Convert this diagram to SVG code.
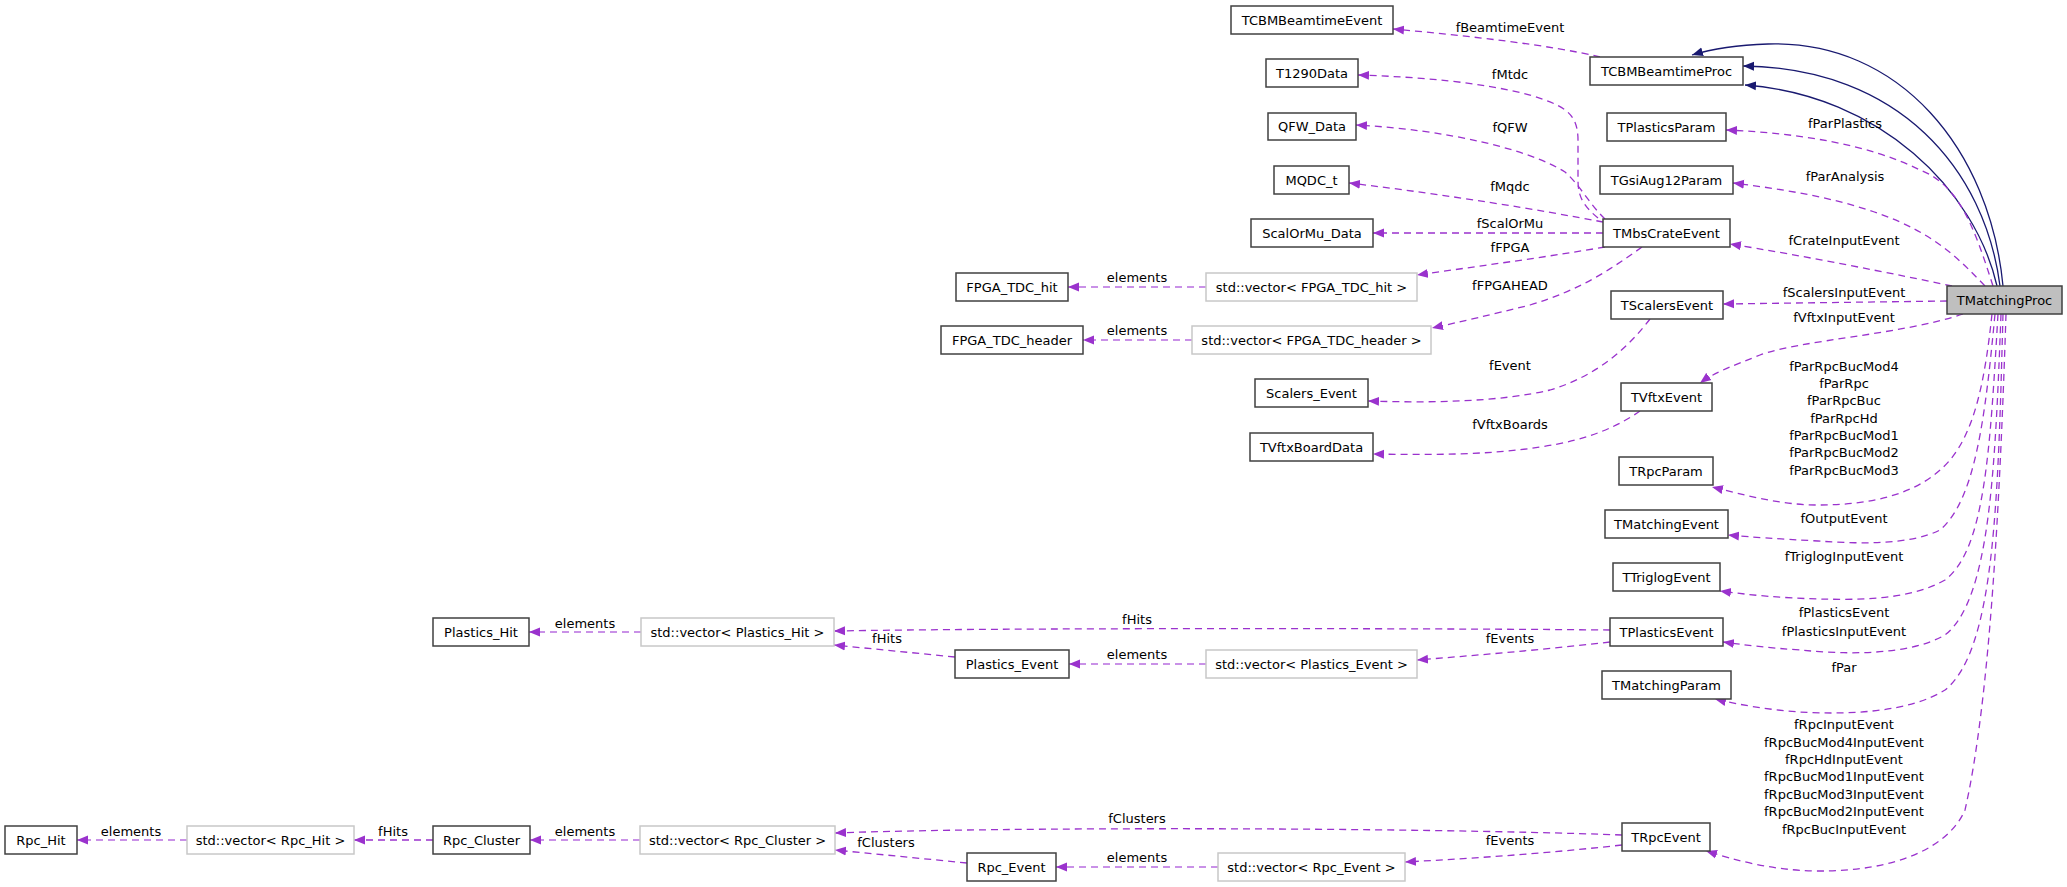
<svg xmlns="http://www.w3.org/2000/svg" width="2067" height="887" viewBox="0 0 2067 887">
<style>
text{font-family:"DejaVu Sans","Liberation Sans",sans-serif;font-size:13px;fill:#000}
.n rect{fill:#fff;stroke:#404040;stroke-width:1.5}
.v rect{fill:#fff;stroke:#c8c8c8;stroke-width:1.5}
.m rect{fill:#bfbfbf;stroke:#404040;stroke-width:1.5}
g.n text,g.v text,g.m text{text-anchor:middle}
.e path{fill:none;stroke:#9a32cd;stroke-width:1.3;stroke-dasharray:7,5;marker-end:url(#pa)}
.e path.el{stroke:#b86ee0}
.e path.inh{stroke:#191970;stroke-dasharray:none;marker-end:url(#ba)}
.l text{text-anchor:middle}
</style>
<defs>
<marker id="pa" markerUnits="userSpaceOnUse" markerWidth="12" markerHeight="10" refX="11" refY="5" orient="auto"><path d="M0,0.5 L11,5 L0,9.5z" fill="#9a32cd"/></marker>
<marker id="ba" markerUnits="userSpaceOnUse" markerWidth="12" markerHeight="10" refX="11" refY="5" orient="auto"><path d="M0,0.5 L11,5 L0,9.5z" fill="#191970"/></marker>
</defs>
<g class="e">
<path d="M1600,57 C1550,45 1470,36 1393,29"/>
<path d="M1598,218 C1582,205 1578,195 1578,180 L1578,140 C1578,110 1560,105 1530,95 C1480,82 1420,77 1358,75"/>
<path d="M1605,219 C1590,205 1580,185 1565,172 C1530,150 1450,130 1356,125"/>
<path d="M1603,222 C1540,210 1450,195 1349,183"/>
<path d="M1603,233 L1373,233"/>
<path d="M1605,247 C1540,258 1480,266 1417,275"/>
<path d="M1642,247 C1610,270 1580,290 1530,305 C1490,315 1460,322 1432,328"/>
<path class="el" d="M1206,287 L1068,287"/>
<path class="el" d="M1192,340 L1083,340"/>
<path d="M1650,319 C1630,345 1600,375 1550,390 C1500,402 1430,403 1368,401"/>
<path d="M1640,411 C1620,425 1590,440 1540,447 C1490,455 1430,455 1373,454"/>
<path class="inh" d="M2003,286 C1990,150 1900,40 1768,44 C1740,45 1715,48 1692,55"/>
<path class="inh" d="M2000,286 C1985,170 1900,68 1743,66"/>
<path class="inh" d="M1997,286 C1975,190 1880,95 1745,85"/>
<path d="M1993,286 C1975,230 1960,185 1920,170 C1870,145 1800,133 1726,130"/>
<path d="M1985,286 C1960,260 1940,240 1900,222 C1850,200 1790,190 1733,183"/>
<path d="M1952,286 C1900,275 1800,255 1730,244"/>
<path d="M1947,301 L1723,304"/>
<path d="M1963,314 C1900,335 1800,340 1760,355 C1735,365 1715,372 1700,383"/>
<path d="M1992,314 C1985,380 1975,430 1950,460 C1920,495 1870,505 1818,505 C1780,505 1745,495 1712,487"/>
<path d="M1995,314 C1985,420 1975,500 1940,530 C1910,545 1860,544 1818,541 C1780,539 1750,537 1728,535"/>
<path d="M1998,314 C1990,450 1985,550 1945,580 C1910,600 1860,600 1820,599 C1780,598 1750,595 1720,591"/>
<path d="M2001,314 C1995,470 1990,600 1945,635 C1910,655 1850,655 1800,650 C1770,648 1745,645 1723,642"/>
<path d="M2003,314 C1998,500 1995,650 1945,690 C1910,712 1850,715 1800,712 C1770,710 1740,705 1715,699"/>
<path d="M2006,314 C2000,500 1990,700 1965,810 C1950,845 1900,872 1815,871 C1770,870 1735,860 1706,851"/>
<path d="M1610,630 C1400,628 1000,628 834,631"/>
<path d="M1610,642 C1540,650 1480,655 1417,660"/>
<path d="M955,657 L834,645"/>
<path class="el" d="M1206,664 L1069,664"/>
<path class="el" d="M641,632 L529,632"/>
<path d="M1622,835 C1400,827 1000,827 835,833"/>
<path d="M1622,845 C1550,853 1480,858 1405,862"/>
<path d="M967,863 L835,850"/>
<path class="el" d="M1218,867 L1056,867"/>
<path class="el" d="M640,840 L530,840"/>
<path d="M433,840 L354,840"/>
<path class="el" d="M187,840 L77,840"/>
</g>
<g class="l">
<text x="1510" y="32">fBeamtimeEvent</text>
<text x="1510" y="79">fMtdc</text>
<text x="1510" y="132">fQFW</text>
<text x="1510" y="191">fMqdc</text>
<text x="1510" y="228">fScalOrMu</text>
<text x="1510" y="252">fFPGA</text>
<text x="1510" y="290">fFPGAHEAD</text>
<text x="1137" y="282">elements</text>
<text x="1137" y="335">elements</text>
<text x="1845" y="128">fParPlastics</text>
<text x="1845" y="181">fParAnalysis</text>
<text x="1844" y="245">fCrateInputEvent</text>
<text x="1844" y="297">fScalersInputEvent</text>
<text x="1844" y="322">fVftxInputEvent</text>
<text x="1510" y="370">fEvent</text>
<text x="1510" y="429">fVftxBoards</text>
<text x="1844" y="371">fParRpcBucMod4</text>
<text x="1844" y="388">fParRpc</text>
<text x="1844" y="405">fParRpcBuc</text>
<text x="1844" y="423">fParRpcHd</text>
<text x="1844" y="440">fParRpcBucMod1</text>
<text x="1844" y="457">fParRpcBucMod2</text>
<text x="1844" y="475">fParRpcBucMod3</text>
<text x="1844" y="523">fOutputEvent</text>
<text x="1844" y="561">fTriglogInputEvent</text>
<text x="1844" y="617">fPlasticsEvent</text>
<text x="1844" y="636">fPlasticsInputEvent</text>
<text x="1844" y="672">fPar</text>
<text x="1844" y="729">fRpcInputEvent</text>
<text x="1844" y="747">fRpcBucMod4InputEvent</text>
<text x="1844" y="764">fRpcHdInputEvent</text>
<text x="1844" y="781">fRpcBucMod1InputEvent</text>
<text x="1844" y="799">fRpcBucMod3InputEvent</text>
<text x="1844" y="816">fRpcBucMod2InputEvent</text>
<text x="1844" y="834">fRpcBucInputEvent</text>
<text x="1137" y="624">fHits</text>
<text x="887" y="643">fHits</text>
<text x="1510" y="643">fEvents</text>
<text x="1137" y="659">elements</text>
<text x="585" y="628">elements</text>
<text x="1137" y="823">fClusters</text>
<text x="886" y="847">fClusters</text>
<text x="1510" y="845">fEvents</text>
<text x="1137" y="862">elements</text>
<text x="585" y="836">elements</text>
<text x="393" y="836">fHits</text>
<text x="131" y="836">elements</text>
</g>
<g id="TMatchingProc" class="m"><rect x="1947" y="286" width="115" height="28"/><text x="2004.5" y="305">TMatchingProc</text></g>
<g id="TCBMBeamtimeProc" class="n"><rect x="1590" y="57" width="153" height="28"/><text x="1666.5" y="76">TCBMBeamtimeProc</text></g>
<g id="TCBMBeamtimeEvent" class="n"><rect x="1231" y="6" width="162" height="28"/><text x="1312" y="25">TCBMBeamtimeEvent</text></g>
<g id="T1290Data" class="n"><rect x="1266" y="59" width="92" height="28"/><text x="1312" y="78">T1290Data</text></g>
<g id="QFW_Data" class="n"><rect x="1268" y="113" width="88" height="27"/><text x="1312" y="131">QFW_Data</text></g>
<g id="MQDC_t" class="n"><rect x="1274" y="166" width="75" height="28"/><text x="1311.5" y="185">MQDC_t</text></g>
<g id="ScalOrMu_Data" class="n"><rect x="1251" y="219" width="122" height="28"/><text x="1312" y="238">ScalOrMu_Data</text></g>
<g id="vec_FPGA_TDC_hit" class="v"><rect x="1206" y="273" width="211" height="28"/><text x="1311.5" y="292">std::vector&lt; FPGA_TDC_hit &gt;</text></g>
<g id="vec_FPGA_TDC_header" class="v"><rect x="1192" y="326" width="239" height="28"/><text x="1311.5" y="345">std::vector&lt; FPGA_TDC_header &gt;</text></g>
<g id="FPGA_TDC_hit" class="n"><rect x="956" y="273" width="112" height="28"/><text x="1012" y="292">FPGA_TDC_hit</text></g>
<g id="FPGA_TDC_header" class="n"><rect x="941" y="326" width="142" height="28"/><text x="1012" y="345">FPGA_TDC_header</text></g>
<g id="Scalers_Event" class="n"><rect x="1255" y="379" width="113" height="28"/><text x="1311.5" y="398">Scalers_Event</text></g>
<g id="TVftxBoardData" class="n"><rect x="1250" y="433" width="123" height="28"/><text x="1311.5" y="452">TVftxBoardData</text></g>
<g id="TPlasticsParam" class="n"><rect x="1607" y="113" width="119" height="28"/><text x="1666.5" y="132">TPlasticsParam</text></g>
<g id="TGsiAug12Param" class="n"><rect x="1600" y="166" width="133" height="28"/><text x="1666.5" y="185">TGsiAug12Param</text></g>
<g id="TMbsCrateEvent" class="n"><rect x="1603" y="219" width="127" height="28"/><text x="1666.5" y="238">TMbsCrateEvent</text></g>
<g id="TScalersEvent" class="n"><rect x="1611" y="291" width="112" height="28"/><text x="1667" y="310">TScalersEvent</text></g>
<g id="TVftxEvent" class="n"><rect x="1621" y="383" width="91" height="28"/><text x="1666.5" y="402">TVftxEvent</text></g>
<g id="TRpcParam" class="n"><rect x="1619" y="457" width="94" height="28"/><text x="1666" y="476">TRpcParam</text></g>
<g id="TMatchingEvent" class="n"><rect x="1605" y="510" width="123" height="28"/><text x="1666.5" y="529">TMatchingEvent</text></g>
<g id="TTriglogEvent" class="n"><rect x="1613" y="563" width="107" height="28"/><text x="1666.5" y="582">TTriglogEvent</text></g>
<g id="TPlasticsEvent" class="n"><rect x="1610" y="618" width="113" height="28"/><text x="1666.5" y="637">TPlasticsEvent</text></g>
<g id="TMatchingParam" class="n"><rect x="1602" y="671" width="129" height="28"/><text x="1666.5" y="690">TMatchingParam</text></g>
<g id="TRpcEvent" class="n"><rect x="1622" y="823" width="88" height="28"/><text x="1666" y="842">TRpcEvent</text></g>
<g id="vec_Plastics_Event" class="v"><rect x="1206" y="650" width="211" height="28"/><text x="1311.5" y="669">std::vector&lt; Plastics_Event &gt;</text></g>
<g id="vec_Rpc_Event" class="v"><rect x="1218" y="853" width="187" height="28"/><text x="1311.5" y="872">std::vector&lt; Rpc_Event &gt;</text></g>
<g id="Plastics_Event" class="n"><rect x="955" y="650" width="114" height="28"/><text x="1012" y="669">Plastics_Event</text></g>
<g id="Rpc_Event" class="n"><rect x="967" y="853" width="89" height="28"/><text x="1011.5" y="872">Rpc_Event</text></g>
<g id="vec_Plastics_Hit" class="v"><rect x="641" y="618" width="193" height="28"/><text x="737.5" y="637">std::vector&lt; Plastics_Hit &gt;</text></g>
<g id="vec_Rpc_Cluster" class="v"><rect x="640" y="826" width="195" height="28"/><text x="737.5" y="845">std::vector&lt; Rpc_Cluster &gt;</text></g>
<g id="Plastics_Hit" class="n"><rect x="433" y="618" width="96" height="28"/><text x="481" y="637">Plastics_Hit</text></g>
<g id="Rpc_Cluster" class="n"><rect x="433" y="826" width="97" height="28"/><text x="481.5" y="845">Rpc_Cluster</text></g>
<g id="vec_Rpc_Hit" class="v"><rect x="187" y="826" width="167" height="28"/><text x="270.5" y="845">std::vector&lt; Rpc_Hit &gt;</text></g>
<g id="Rpc_Hit" class="n"><rect x="5" y="826" width="72" height="28"/><text x="41" y="845">Rpc_Hit</text></g>
</svg>
